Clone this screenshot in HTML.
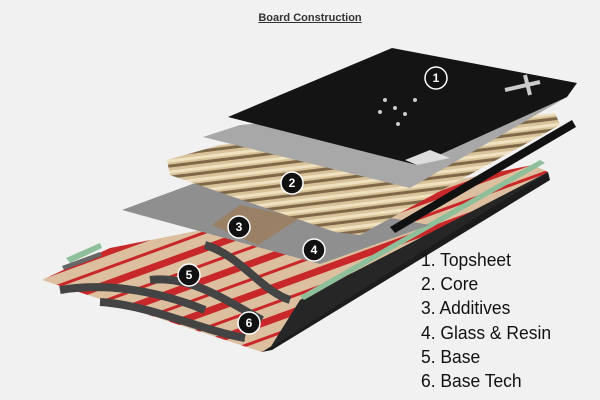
<!DOCTYPE html>
<html><head><style>
body{margin:0;width:600px;height:400px;background:#f1f1f1;overflow:hidden;position:relative;font-family:"Liberation Sans",sans-serif}
.t{position:absolute;left:0;width:620px;top:12px;text-align:center;font-size:11px;font-weight:bold;color:#333;text-decoration:underline}
.l{position:absolute;left:421px;font-size:18px;color:#111;line-height:24.2px;top:248px;transform:scaleX(0.97);transform-origin:left}
</style></head><body>
<div class="t">Board Construction</div>
<svg width="600" height="400" style="position:absolute;left:0;top:0">
<defs>
<pattern id="wood" width="11" height="11" patternUnits="userSpaceOnUse" patternTransform="rotate(-97)">
<rect width="11" height="11" fill="#d8c29a"/><rect width="3" height="11" fill="#7e6848"/><rect x="5" width="3" height="11" fill="#f0e2c0"/></pattern>
<pattern id="red" width="30" height="30" patternUnits="userSpaceOnUse" patternTransform="rotate(70)">
<rect width="30" height="30" fill="#dcbf9f"/><rect width="7" height="30" fill="#c8282a"/><rect x="17" width="3" height="30" fill="#c8282a"/></pattern>
</defs>
<polygon points="42,280,110,248,533,165,548,172,262,352" fill="url(#red)"/>
<path d="M60,290 C110,282 160,292 205,310 M100,302 C150,305 200,330 245,338 M150,280 C190,275 225,300 262,320 M205,245 C240,255 260,290 290,300" stroke="#444" stroke-width="8" fill="none"/>
<polygon points="262,352,548,172,550,180,272,350" fill="#1c1c1c"/>
<polygon points="300,300,548,172,270,348" fill="#262626"/>
<polygon points="300,296,540,160,545,163,304,300" fill="#8fbf9a"/>
<polygon points="66,258,100,243,102,248,70,263" fill="#8fbf9a"/>
<polygon points="62,266,100,252,102,256,64,270" fill="#666"/>
<polygon points="122,210,195,183,430,225,320,264" fill="#8f8f8f"/>
<polygon points="212,225,240,205,300,218,258,245" fill="#9a8064"/>
<polygon points="167,160,220,145,555,113,560,125,360,235,335,232,170,175" fill="url(#wood)"/>
<polygon points="390,227,572,120,576,127,395,233" fill="#111"/>
<polygon points="203,137,240,125,567,97,410,188" fill="#a8a8a8"/>
<polygon points="228,117,392,48,577,83,567,97,417,165" fill="#141414"/>
<polygon points="405,160,430,150,450,158,417,165" fill="#ddd"/>
<g fill="#ccc"><circle cx="385" cy="100" r="2"/><circle cx="395" cy="108" r="2"/><circle cx="405" cy="114" r="2"/><circle cx="415" cy="100" r="2"/><circle cx="380" cy="112" r="2"/><circle cx="398" cy="124" r="2"/></g>
<path d="M505,90 L540,82 M525,75 L530,95" stroke="#ccc" stroke-width="4"/>
<g fill="#111" stroke="#fff" stroke-width="1.5">
<circle cx="436" cy="78" r="11"/><circle cx="292" cy="183" r="11"/><circle cx="239" cy="227" r="11"/><circle cx="314" cy="250" r="11"/><circle cx="189" cy="275" r="11"/><circle cx="249" cy="323" r="11"/>
</g>
<g fill="#fff" font-family="Liberation Sans" font-weight="bold" font-size="12" text-anchor="middle">
<text x="436" y="82">1</text><text x="292" y="187">2</text><text x="239" y="231">3</text><text x="314" y="254">4</text><text x="189" y="279">5</text><text x="249" y="327">6</text>
</g>
</svg>
<div class="l">1. Topsheet<br>2. Core<br>3. Additives<br>4. Glass &amp; Resin<br>5. Base<br>6. Base Tech</div>
</body></html>
